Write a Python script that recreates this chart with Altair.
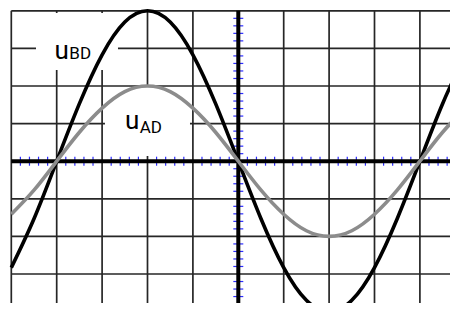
import altair as alt
import pandas as pd

# ---- data (units: screen divisions) ----
div = [0, 0.5, 1, 1.5, 2, 2.5, 3, 3.5, 4, 4.5, 5, 5.5, 6, 6.5, 7, 7.5, 8, 8.5, 9, 9.5, 10]
u_bd = [-2.83, -1.53, 0, 1.53, 2.83, 3.70, 4.0, 3.70, 2.83, 1.53, 0, -1.53, -2.83, -3.70,
        -4.0, -3.70, -2.83, -1.53, 0, 1.53, 2.83]
u_ad = [-1.41, -0.77, 0, 0.77, 1.41, 1.85, 2.0, 1.85, 1.41, 0.77, 0, -0.77, -1.41, -1.85,
        -2.0, -1.85, -1.41, -0.77, 0, 0.77, 1.41]

grid_x = [0, 1, 2, 3, 4, 5, 6, 7, 8, 9]
grid_y = [4, 3, 2, 1, 0, -1, -2, -3]
tick_x = [k / 5 for k in range(1, 50) if k % 5 != 0]
tick_y = [k / 5 for k in range(-20, 21) if k % 5 != 0]

labels_main = ["u", "u"]
labels_sub = ["BD", "AD"]

# ---- layout geometry (page pixels) ----
X0, DX = 11.3, 45.4
Y0, DY = 10.8, 37.6
W, H = 442, 295
xdom = [(8 - X0) / DX, (8 + W - X0) / DX]
ydom = [4 - (8 + H - Y0) / DY, 4 - (8 - Y0) / DY]
xs = alt.Scale(domain=xdom, nice=False, zero=False)
ys = alt.Scale(domain=ydom, nice=False, zero=False)

curves = pd.DataFrame({"d": div * 2,
                       "v": u_bd + u_ad,
                       "s": ["BD"] * len(div) + ["AD"] * len(div)})

vgrid = pd.DataFrame({"x": grid_x, "y1": 4, "y2": -5})
hgrid = pd.DataFrame({"y": grid_y, "x1": 0, "x2": 11})
axis_v = pd.DataFrame({"x": [5], "y1": [4], "y2": [-5]})
axis_h = pd.DataFrame({"y": [0], "x1": [0], "x2": [11]})
ticks_h = pd.DataFrame({"x": tick_x, "y1": -0.12, "y2": 0.12})
ticks_v = pd.DataFrame({"y": tick_y, "x1": 5 - 0.11, "x2": 5 + 0.11})
boxes = pd.DataFrame({"x1": [0.544, 2.063], "x2": [2.35, 3.936],
                      "y1": [3.94, 1.973], "y2": [2.426, 0.138]})
txt_main = pd.DataFrame({"x": [0.9515, 2.504], "y": [2.72, 0.848], "t": labels_main})
txt_sub = pd.DataFrame({"x": [1.2775, 2.830], "y": [2.72, 0.758], "t": labels_sub})

GRID = "#262626"

def vrule(df, color, width):
    return alt.Chart(df).mark_rule(color=color, strokeWidth=width, clip=True).encode(
        x=alt.X("x:Q", scale=xs, axis=None),
        y=alt.Y("y1:Q", scale=ys, axis=None),
        y2="y2:Q")

def hrule(df, color, width):
    return alt.Chart(df).mark_rule(color=color, strokeWidth=width, clip=True).encode(
        y=alt.Y("y:Q", scale=ys, axis=None),
        x=alt.X("x1:Q", scale=xs, axis=None),
        x2="x2:Q")

grid = vrule(vgrid, GRID, 1.7) + hrule(hgrid, GRID, 1.7)

box_layer = alt.Chart(boxes).mark_rect(color="white", clip=True).encode(
    x=alt.X("x1:Q", scale=xs, axis=None), x2="x2:Q",
    y=alt.Y("y1:Q", scale=ys, axis=None), y2="y2:Q")

axes = vrule(axis_v, "black", 4) + hrule(axis_h, "black", 4)
ticks = vrule(ticks_h, "#2b2bff", 1.2) + hrule(ticks_v, "#2b2bff", 1.2)

lines = alt.Chart(curves).mark_line(strokeWidth=3.6, interpolate="natural", clip=True).encode(
    x=alt.X("d:Q", scale=xs, axis=None),
    y=alt.Y("v:Q", scale=ys, axis=None),
    color=alt.Color("s:N", scale=alt.Scale(domain=["AD", "BD"], range=["#8c8c8c", "#000000"]),
                    legend=None),
    order=alt.Order("d:Q"))

t_main = alt.Chart(txt_main).mark_text(align="left", baseline="alphabetic", font="Roboto",
                                       fontSize=26, color="black").encode(
    x=alt.X("x:Q", scale=xs, axis=None), y=alt.Y("y:Q", scale=ys, axis=None), text="t:N")
t_sub = alt.Chart(txt_sub).mark_text(align="left", baseline="alphabetic", font="Roboto",
                                     fontSize=17, color="black").encode(
    x=alt.X("x:Q", scale=xs, axis=None), y=alt.Y("y:Q", scale=ys, axis=None), text="t:N")

chart = alt.layer(grid, box_layer, ticks, axes, lines, t_main, t_sub).properties(
    width=W, height=H, autosize=alt.AutoSizeParams(type="none"), padding=0,
    background="white"
).configure_view(stroke=None)

chart.save("out.html", embed_options={"renderer": "svg", "actions": False})
